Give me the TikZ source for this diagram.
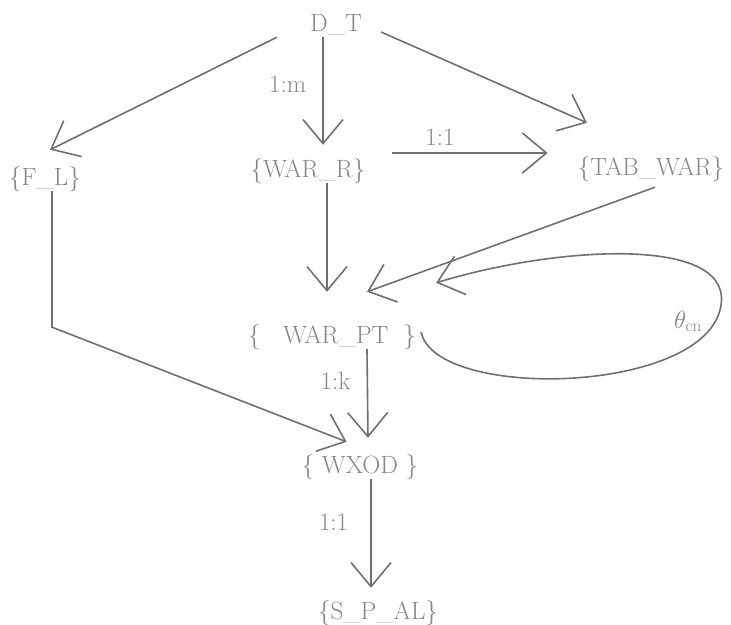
\documentclass[tikz,border=0pt]{standalone}
\usepackage{tikz}
\usetikzlibrary{arrows.meta}
\usepackage{xcolor}
\usepackage{amsmath,amssymb}
\definecolor{InkGray}{RGB}{112,112,112}
\definecolor{TextGray}{RGB}{135,135,135}
\tikzset{
  setbox/.style={inner sep=0pt,text height=18pt,text depth=6pt,
    text=TextGray,font=\fontsize{25}{30}\selectfont},
  linkarrow/.style={-{Straight Barb[length=24pt,width=40pt]},
    line width=1.6pt,draw=InkGray},
  cardlabel/.style={inner sep=0pt,text=TextGray,
    font=\fontsize{25}{30}\selectfont},
}

\begin{document}
\begin{tikzpicture}[x=1pt,y=-1pt]
\useasboundingbox[fill=white] (0,0) rectangle (731,624);
% entity sets
\node[setbox] (dt) at (336,25) {D\_T};
\node[setbox] (fl) at (45,179) {\{F\_L\}};
\node[setbox] (warr) at (308,171) {\{WAR\_R\}};
\node[setbox] (tabwar) at (651,169) {\{TAB\_WAR\}};
\node[setbox] (warpt) at (332,337) {\{\hspace{0.9em}WAR\_PT\hspace{0.6em}\}};
\node[setbox] (wxod) at (360,467) {\{ WXOD \}};
\node[setbox] (spal) at (378,613) {\{S\_P\_AL\}};
% links
\draw[linkarrow] ([xshift=-33pt]dt.south west) -- ([xshift=5pt,yshift=17pt]fl.north);
\draw[linkarrow] ([xshift=-13pt]dt.south) -- ([xshift=15pt,yshift=14pt]warr.north)
  node[cardlabel,pos=0.44,left=16pt] {1:m};
\draw[linkarrow] ([xshift=19pt,yshift=-7pt]dt.east) -- ([xshift=-64pt,yshift=34pt]tabwar.north);
\draw[linkarrow] ([xshift=26pt,yshift=18pt]warr.east) -- ([xshift=-30pt,yshift=16pt]tabwar.west)
  node[cardlabel,pos=0.31,above=7pt] {1:1};
\draw[linkarrow] ([xshift=19pt]warr.south) -- ([xshift=-5pt,yshift=33pt]warpt.north);
\draw[linkarrow] ([xshift=4pt,yshift=-6pt]tabwar.south) -- ([xshift=35pt,yshift=33pt]warpt.north);
\draw[linkarrow] ([xshift=5pt,yshift=5pt]warpt.east)
  .. controls (435,400) and (698,395) .. (720,310)
  .. controls (740,235) and (560,245) .. ([xshift=20pt,yshift=42pt]warpt.north east);
\node[setbox] (theta) at (688,322) {$\theta_{\mathrm{cn}}$};
\draw[linkarrow] ([xshift=35pt]warpt.south) -- ([xshift=8pt,yshift=17pt]wxod.north)
  node[cardlabel,pos=0.36,left=16pt] {1:k};
\draw[linkarrow] ([xshift=7pt]fl.south) -- ++(0,136) -- ([xshift=45pt,yshift=13pt]wxod.north west);
\draw[linkarrow] ([xshift=11pt]wxod.south) -- ([xshift=-7pt,yshift=13pt]spal.north)
  node[cardlabel,pos=0.4,left=22pt] {1:1};
\end{tikzpicture}
\end{document}
